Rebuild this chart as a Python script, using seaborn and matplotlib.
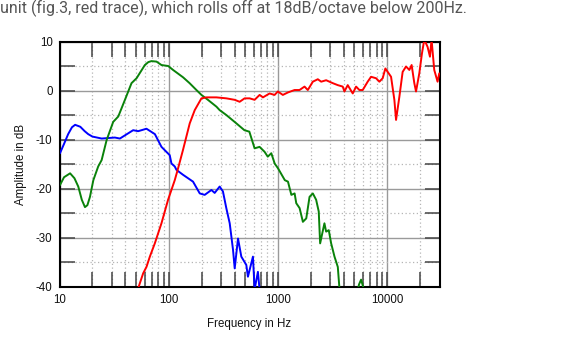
import numpy as np
import pandas as pd
import matplotlib
matplotlib.use("Agg")
import matplotlib.pyplot as plt
import matplotlib.ticker as mticker
import seaborn as sns

# ---- data ----
blue_f = [10.1, 11.0, 12.0, 13.0, 13.9, 15.5, 17.0, 18.3, 20.0, 24.3, 32.1, 35.7, 47.2, 52.4,
          62.5, 74.6, 85.7, 102,
          105.8, 113.4, 117.6, 135, 166.7, 192, 213, 245.5, 263, 292, 313, 336,
          361, 387, 401, 430, 461, 512, 530, 589, 610, 654, 677, 700]
blue_db = [-12.7, -10.8, -8.8, -7.4, -6.9, -7.3, -8.2, -8.8, -9.3, -9.7, -9.5, -9.7, -8.0, -8.2,
           -7.7, -8.8, -11.4, -13.1,
           -14.8, -15.4, -16.1, -17.1, -18.5, -20.9, -21.2, -20.2, -20.8, -19.5, -20.5, -23.9,
           -27.0, -32.4, -36.2, -30.1, -33.8, -35.5, -37.9, -33.8, -40.5, -36.9, -40.5, -43]

green_f = [10.1, 11.0, 12.5, 13.7, 14.85, 16.0, 17.1, 18.0, 19.0, 20.4, 22.6, 24.3, 27.0, 31.0,
           34.5, 39.7, 45.6, 50.7, 60.4, 65.0, 69.4, 77.2, 85.7, 98.8, 109.4, 135, 155, 179,
           199, 228, 273, 292, 336, 415, 492, 546, 610, 677, 752, 805, 867, 931, 1000, 1153,
           1232, 1323, 1417, 1467, 1574, 1687, 1811, 1941, 2080, 2230, 2356, 2426,
           2656, 2752, 2910, 3060, 3166, 3283, 3520, 3650, 4000, 5000, 5500, 5750,
           6100, 7000]
green_db = [-19.2, -17.6, -16.8, -17.8, -19.5, -22.2, -23.7, -23.3, -21.6, -18.2, -15.4, -14.1,
            -10.0, -6.3, -5.2, -1.8, 1.6, 2.6, 5.3, 5.9, 6.1, 6.0, 5.3, 5.1, 4.3, 2.8, 1.6, 0.2,
            -0.8, -1.8, -3.2, -3.9, -4.9, -6.6, -8.0, -8.3, -11.7, -11.4, -12.4, -13.4, -12.7,
            -14.8, -15.8, -18.2,
            -18.5, -21.2, -20.9, -22.9, -23.9, -26.7, -26.0, -21.6, -20.9, -22.2, -24.6, -31.1,
            -27.0, -28.7, -28.4, -31.1, -32.4, -33.8, -35.9, -40.5, -45, -44, -39.5, -38.5,
            -40.5, -46]

red_f = [45, 52.4, 58.3, 62.5, 67.1, 74.5, 85.7, 98.5, 113.4, 121.6, 135, 155.5, 172.8,
         198.9, 221, 272.7, 336.5, 400.6, 445, 494, 549, 610, 678, 727, 836, 929, 995,
         1106, 1229, 1415, 1571, 1746, 1871, 2079, 2310, 2480, 2754, 3166, 3517, 3907,
         4047, 4340, 4822, 5176, 5548, 5950, 6607, 7096, 7886, 8450, 9060, 9590, 10070,
         10810, 11590, 12010, 12875, 13800, 14820, 15890, 16680, 17650, 18290, 19600,
         20740, 21770, 23340, 24540, 25370, 26860, 28800, 29850]
red_db = [-44, -40.3, -37.2, -35.9, -33.8, -31.1, -27.0, -22.2, -18.2, -15.8, -12.0, -6.6, -3.9,
          -1.5, -1.3, -1.3, -1.5, -1.8, -2.2, -1.5, -1.5, -1.8, -0.8, -1.3, -0.5, -0.8, -0.1,
          -0.8, -0.3, 0.2, 0.2, 0.9, 0.2, 1.9, 2.4, 1.9, 2.2, 1.6, 1.2, 0.9,
          -0.1, 1.2, -0.5, 0.9, 0.2, 0.2, 1.9, 2.9, 2.6, 1.9, 2.6, 4.6, 3.9,
          2.9, -1.8, -5.9, -1.2, 3.9, 5.0, 4.3, 5.3, 1.6, -0.1, 3.6,
          7.7, 10.5, 9.0, 7.0, 10.5, 4.3, 1.9, 3.6]

x_ticks = [10, 100, 1000, 10000]
x_ticklabels = ["10", "100", "1000", "10000"]
y_ticks = [10, 0, -10, -20, -30, -40]
y_ticklabels = ["10", "0", "-10", "-20", "-30", "-40"]

df = pd.concat([
    pd.DataFrame({"f": blue_f, "db": blue_db, "s": "blue"}),
    pd.DataFrame({"f": green_f, "db": green_db, "s": "green"}),
    pd.DataFrame({"f": red_f, "db": red_db, "s": "red"}),
], ignore_index=True)

sns.set_style("white")
plt.rcParams["font.family"] = ["Liberation Sans", "DejaVu Sans"]

fig = plt.figure(figsize=(5.87, 3.39), dpi=100)
ax = fig.add_axes([59.5 / 587, 1 - 287 / 339, 380 / 587, 245 / 339])

sns.lineplot(data=df, x="f", y="db", hue="s", units="s", estimator=None, sort=False,
             palette={"blue": "#0000ff", "green": "#0a820a", "red": "#ff0000"},
             linewidth=1.4, legend=False, ax=ax, zorder=3)

ax.set_xscale("log")
ax.set_xlim(10, 30000)
ax.set_ylim(-40, 10)

ax.xaxis.set_major_locator(mticker.FixedLocator(x_ticks))
ax.xaxis.set_major_formatter(mticker.FixedFormatter(x_ticklabels))
ax.xaxis.set_minor_locator(mticker.LogLocator(base=10, subs=np.arange(2, 10), numticks=20))
ax.xaxis.set_minor_formatter(mticker.NullFormatter())
ax.yaxis.set_major_locator(mticker.FixedLocator(y_ticks))
ax.yaxis.set_major_formatter(mticker.FixedFormatter(y_ticklabels))
ax.yaxis.set_minor_locator(mticker.MultipleLocator(5))

ax.grid(which="major", color="#9a9a9a", linewidth=1.0, linestyle="-", zorder=0)
ax.grid(which="minor", color="#b5b5b5", linewidth=0.9, linestyle=(0, (1, 2)), zorder=0)
ax.set_axisbelow(True)

ax.tick_params(which="both", direction="in", top=True, right=True, bottom=True, left=True,
               length=10.8, width=1.1, color="#444444")
ax.tick_params(which="major", labelsize=8.3, labelcolor="#111111")
ax.tick_params(axis="x", which="major", pad=5)
ax.tick_params(axis="y", which="major", pad=5)

for sp in ax.spines.values():
    sp.set_visible(True)
    sp.set_color("black")
    sp.set_linewidth(1.5)

ax.set_xlabel("Frequency in Hz", fontsize=8.3, labelpad=9, color="#111111")
ax.set_ylabel("Amplitude in dB", fontsize=8.3, labelpad=6, color="#111111")

fig.text(0.0, 1 - 13 / 339, "unit (fig.3, red trace), which rolls off at 18dB/octave below 200Hz.",
         fontsize=11.5, color="#555555", family=["Roboto", "DejaVu Sans"], va="baseline", ha="left")

fig.savefig("out.png", dpi=100)
